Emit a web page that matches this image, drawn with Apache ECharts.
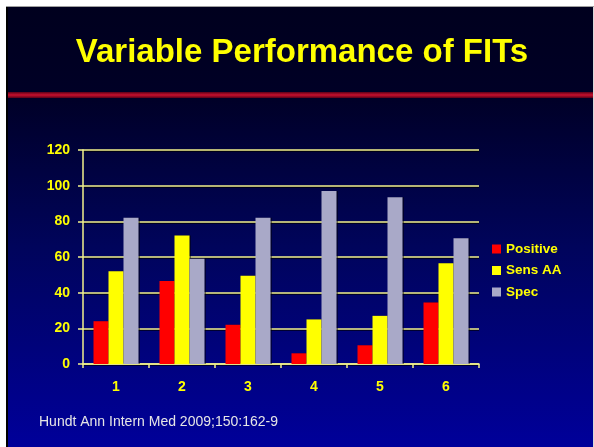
<!DOCTYPE html>
<html>
<head>
<meta charset="utf-8">
<title>Variable Performance of FITs</title>
<script src="https://cdn.jsdelivr.net/npm/echarts@6/dist/echarts.min.js"></script>
<style>
  html, body { margin: 0; padding: 0; background: #ffffff; }
  #chart { width: 594px; height: 447px; }
</style>
</head>
<body>
<div id="chart"></div>
<script>
// data
const categories = ['1', '2', '3', '4', '5', '6'];
const seriesNames = ['Positive', 'Sens AA', 'Spec'];
const positive = [24, 46.5, 22, 6, 10.5, 34.5];
const sensAA = [52, 72, 49.5, 25, 27, 56.5];
const spec = [82, 59, 82, 97, 93.5, 70.5];
const yTicks = [0, 20, 40, 60, 80, 100, 120];

const titleText = 'Variable Performance of FITs';
const sourceText = 'Hundt Ann Intern Med 2009;150:162-9';

(function() {
  const FONT = 'Arial, "Liberation Sans", sans-serif';
  const AXIS_YELLOW = '#f2f28c';

  const chart = echarts.init(document.getElementById('chart'), null, { renderer: 'canvas' });

  // bar style shared by all three series
  function barSeries(name, data) {
    return {
      name: name,
      type: 'bar',
      data: data,
      barWidth: 15,
      barGap: '0%',
      itemStyle: {
        shadowColor: 'rgba(0, 0, 0, 0.45)',
        shadowOffsetX: 1.5,
        shadowOffsetY: 0
      }
    };
  }

  // slide background, borders and the red rule under the title
  const graphics = [
    {
      type: 'rect', z: -10, silent: true,
      shape: { x: 6, y: 7, width: 588, height: 440 },
      style: {
        fill: new echarts.graphic.LinearGradient(0, 0, 0, 1, [
          { offset: 0, color: '#00001e' },
          { offset: 0.2, color: '#000026' },
          { offset: 0.55, color: '#00045c' },
          { offset: 1, color: '#00009a' }
        ])
      }
    },
    { type: 'rect', z: -9, silent: true, shape: { x: 6, y: 6, width: 588, height: 1 }, style: { fill: '#a0a0a0' } },
    { type: 'rect', z: -9, silent: true, shape: { x: 6, y: 7, width: 2, height: 440 }, style: { fill: '#000000' } },
    { type: 'rect', z: -9, silent: true, shape: { x: 593, y: 7, width: 1, height: 440 }, style: { fill: '#d8d8d8' } },
    {
      type: 'rect', z: -8, silent: true,
      shape: { x: 8, y: 92, width: 585, height: 6 },
      style: {
        fill: new echarts.graphic.LinearGradient(0, 0, 0, 1, [
          { offset: 0, color: '#5a0018' },
          { offset: 0.5, color: '#c8102e' },
          { offset: 1, color: '#5a0018' }
        ])
      }
    },
    {
      type: 'text', z: 5, silent: true,
      style: {
        x: 302, y: 53,
        text: titleText,
        align: 'center', verticalAlign: 'middle',
        fill: '#ffff00',
        font: 'bold 33px ' + FONT,
        textShadowColor: '#000000',
        textShadowOffsetX: 2,
        textShadowOffsetY: 2
      }
    },
    {
      type: 'text', z: 5, silent: true,
      style: {
        x: 39, y: 422,
        text: sourceText,
        align: 'left', verticalAlign: 'middle',
        fill: '#e6e6e6',
        font: '14px ' + FONT
      }
    }
  ];

  const option = {
    backgroundColor: '#ffffff',
    animation: false,
    color: ['#ff0000', '#ffff00', '#a9a9c8'],
    textStyle: { fontFamily: FONT },
    graphic: graphics,
    legend: {
      data: seriesNames,
      orient: 'vertical',
      left: 492,
      top: 242,
      padding: 0,
      icon: 'rect',
      itemWidth: 9,
      itemHeight: 9,
      itemGap: 7.5,
      textStyle: {
        color: '#ffff00',
        fontWeight: 'bold',
        fontSize: 13.5,
        lineHeight: 14,
        fontFamily: FONT,
        textShadowColor: '#000000',
        textShadowOffsetX: 1,
        textShadowOffsetY: 1
      }
    },
    grid: {
      left: 83,
      top: 150,
      right: 115,
      bottom: 83,
      containLabel: false
    },
    xAxis: {
      type: 'category',
      data: categories,
      boundaryGap: true,
      axisLine: { lineStyle: { color: AXIS_YELLOW, width: 1.5 } },
      axisTick: { show: true, length: 4, lineStyle: { color: AXIS_YELLOW, width: 1.5 } },
      axisLabel: {
        color: '#ffff00',
        fontWeight: 'bold',
        fontSize: 14,
        margin: 16,
        fontFamily: FONT,
        textShadowColor: '#000000',
        textShadowOffsetX: 1,
        textShadowOffsetY: 1
      },
      splitLine: { show: false }
    },
    yAxis: {
      type: 'value',
      min: yTicks[0],
      max: yTicks[yTicks.length - 1],
      interval: 20,
      axisLine: { show: true, lineStyle: { color: AXIS_YELLOW, width: 1.5 } },
      axisTick: { show: true, length: 5, lineStyle: { color: AXIS_YELLOW, width: 1.5 } },
      axisLabel: {
        color: '#ffff00',
        fontWeight: 'bold',
        fontSize: 14,
        margin: 13,
        fontFamily: FONT,
        textShadowColor: '#000000',
        textShadowOffsetX: 1,
        textShadowOffsetY: 1
      },
      splitLine: {
        show: true,
        lineStyle: {
          color: AXIS_YELLOW,
          width: 1.5,
          shadowColor: 'rgba(0, 0, 0, 0.8)',
          shadowOffsetY: 1
        }
      }
    },
    series: [
      barSeries(seriesNames[0], positive),
      barSeries(seriesNames[1], sensAA),
      barSeries(seriesNames[2], spec)
    ]
  };

  chart.setOption(option);
})();
</script>
</body>
</html>
